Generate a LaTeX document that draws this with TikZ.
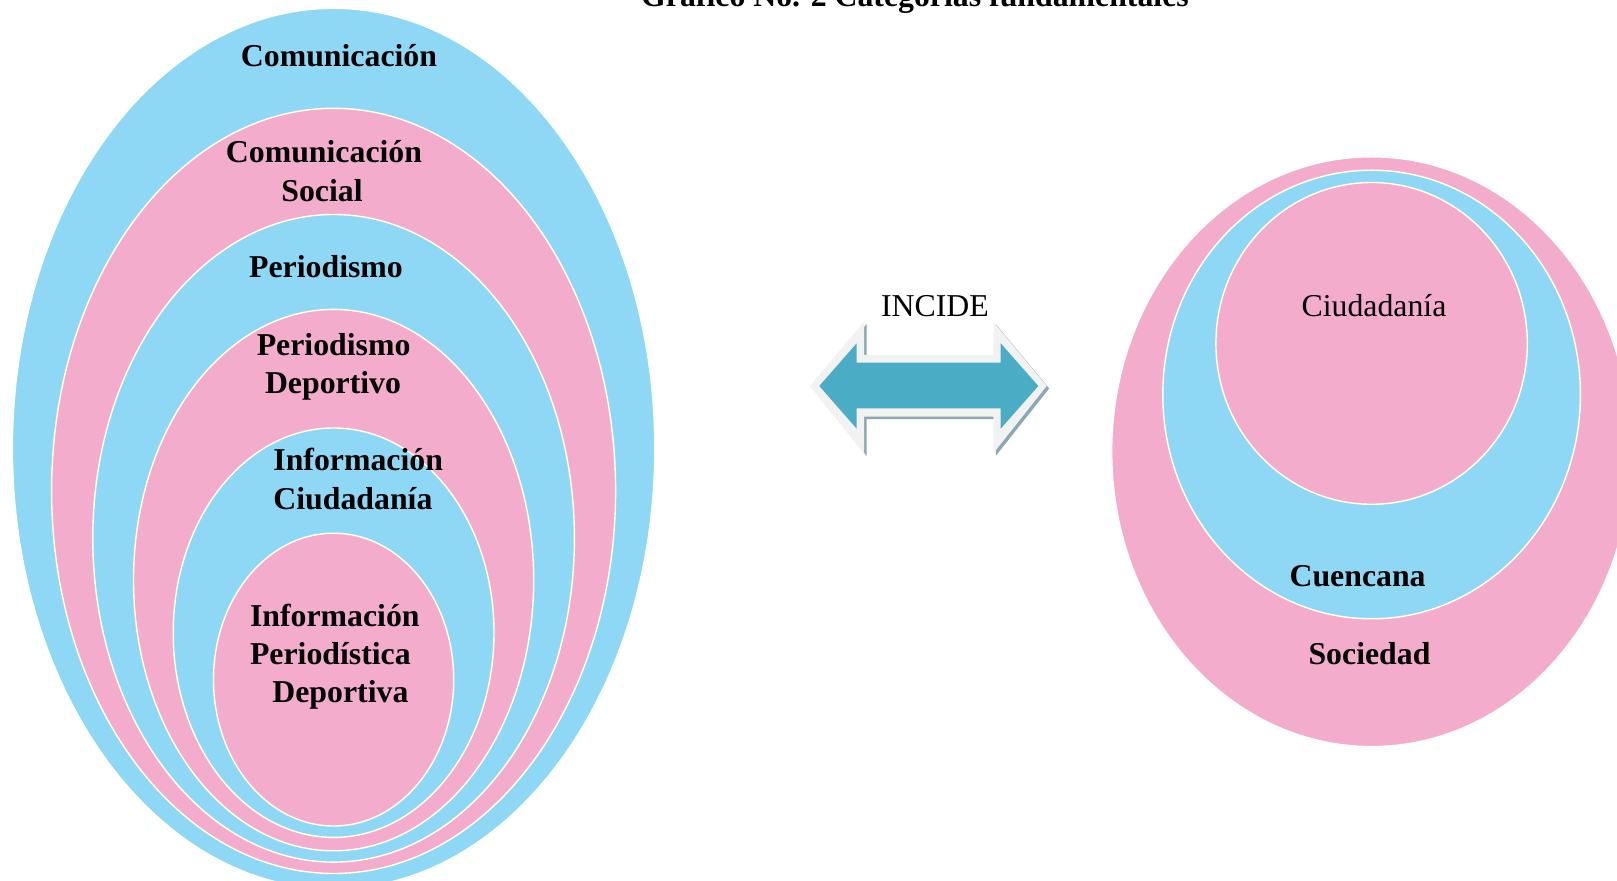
\documentclass[tikz,border=0pt]{standalone}
\usepackage{fontspec}
\setmainfont{Liberation Serif}
\definecolor{cblue}{RGB}{142,216,246}
\definecolor{cpink}{RGB}{244,172,204}
\definecolor{cteal}{RGB}{75,172,198}
\definecolor{clight}{RGB}{242,242,242}
\definecolor{cshadow}{RGB}{140,168,180}
\begin{document}
\begin{tikzpicture}[x=0.5pt,y=-0.5pt,
  bluering/.style={fill=cblue,draw=white,line width=0.7pt},
  pinkring/.style={fill=cpink,draw=white,line width=0.7pt},
  lblb/.style={anchor=base,inner sep=0pt,font=\fontsize{15.9}{19}\selectfont\bfseries},
  lblr/.style={anchor=base,inner sep=0pt,font=\fontsize{15.9}{19}\selectfont},
  lblbl/.style={anchor=base west,inner sep=0pt,font=\fontsize{15.9}{19}\selectfont\bfseries}]
\useasboundingbox (0,0) rectangle (1617,881);
\clip (0,0) rectangle (1617,881);
% left nested ellipses
\path[bluering] (333.6,448.6) ellipse [x radius=321.2,y radius=440.3];
\path[pinkring] (333.6,490.9) ellipse [x radius=282.0,y radius=382.6];
\path[bluering] (333.6,538.3) ellipse [x radius=240.8,y radius=323.8];
\path[pinkring] (333.6,580.1) ellipse [x radius=200.1,y radius=270.7];
\path[bluering] (333.6,632.7) ellipse [x radius=160.4,y radius=204.7];
\path[pinkring] (333.6,679.6) ellipse [x radius=120.1,y radius=146.4];
% right nested ellipses
\path[pinkring] (1371.6,451.7) ellipse [x radius=259.9,y radius=294.9];
\path[bluering] (1371.6,394.5) ellipse [x radius=208.8,y radius=224.3];
\path[pinkring] (1371.6,343.4) ellipse [x radius=155.7,y radius=160.9];
% arrow
\fill[cshadow] (812.5,388.5) -- (866.5,324.2) -- (866.5,357.5) -- (995.8,357.5) -- (995.8,324.2) -- (1049.2,388.5) -- (995.8,455.8) -- (995.8,419.2) -- (866.5,419.2) -- (866.5,455.8) -- cycle;
\fill[clight] (810,386) -- (864,321.7) -- (864,355) -- (993.3,355) -- (993.3,321.7) -- (1046.7,386) -- (993.3,453.3) -- (993.3,416.7) -- (864,416.7) -- (864,453.3) -- cycle;
\fill[cteal] (819.3,386) -- (856.7,343.3) -- (856.7,362.7) -- (1000.7,362.7) -- (1000.7,343.3) -- (1038.3,386) -- (1000.7,428.7) -- (1000.7,408.3) -- (856.7,408.3) -- (856.7,428.7) -- cycle;
% texts
\node[lblb] (title) at (915,7) {Gráfico No. 2 Categorías fundamentales};
\node[lblb] (com) at (339,67) {Comunicación};
\node[lblb] (comsoc1) at (324,163) {Comunicación};
\node[lblb] (comsoc2) at (322,202) {Social};
\node[lblb] (per) at (326,278) {Periodismo};
\node[lblb] (perdep1) at (333.6,356) {Periodismo};
\node[lblb] (perdep2) at (333,394) {Deportivo};
\node[lblbl] (infciu1) at (273,471) {Información};
\node[lblbl] (infciu2) at (273,510) {Ciudadanía};
\node[lblbl] (ipd1) at (249.6,626) {Información};
\node[lblbl] (ipd2) at (249.6,665) {Periodística};
\node[lblbl] (ipd3) at (272,703) {Deportiva};
\node[lblr] (incide) at (935,317) {INCIDE};
\node[lblr] (ciud) at (1374,317) {Ciudadanía};
\node[lblb] (cuenc) at (1357.6,587) {Cuencana};
\node[lblb] (soc) at (1369.5,665) {Sociedad};
\end{tikzpicture}
\end{document}
